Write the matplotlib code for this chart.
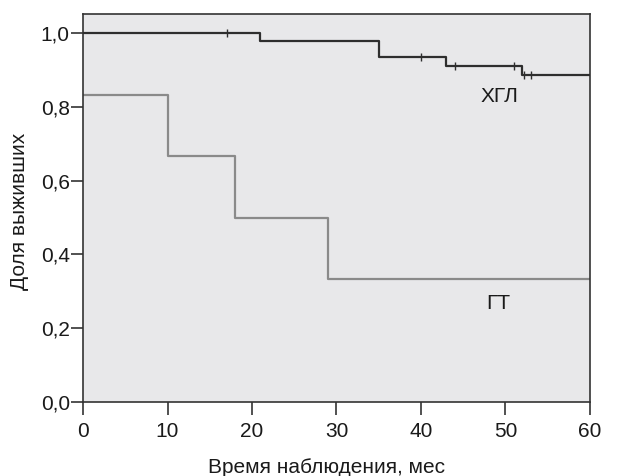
import matplotlib
matplotlib.use("Agg")
import matplotlib.pyplot as plt

plt.rcParams['font.family'] = ['Liberation Sans', 'DejaVu Sans']

# ХГЛ group: event times and survival after each step
hgl_times = [0, 21, 35, 43, 52, 60]
hgl_surv = [1.0, 0.978, 0.934, 0.910, 0.887, 0.887]
hgl_cens_t = [17, 40, 44, 51, 52.2, 53]
hgl_cens_s = [1.0, 0.934, 0.910, 0.910, 0.887, 0.887]

# ГТ group
gt_times = [0, 10, 18, 29, 60]
gt_surv = [0.833, 0.667, 0.5, 0.333, 0.333]

xticks = [0, 10, 20, 30, 40, 50, 60]
yticks = [0.0, 0.2, 0.4, 0.6, 0.8, 1.0]
ytick_labels = ['0,0', '0,2', '0,4', '0,6', '0,8', '1,0']

fig = plt.figure(figsize=(6.21, 4.76), dpi=100)
ax = fig.add_axes([0.1337, 0.1555, 0.8163, 0.816])
ax.set_facecolor('#e8e8ea')

dark = '#2e2e2e'
gray = '#8a8a8a'

ax.step(hgl_times, hgl_surv, where='post', color=dark, lw=1.6, zorder=3)
ax.step(gt_times, gt_surv, where='post', color=gray, lw=1.6, zorder=2)
ax.plot(hgl_cens_t, hgl_cens_s, linestyle='none', marker='|', markersize=6,
        mew=1.0, color=dark, zorder=4)

ax.text(49.3, 0.828, 'ХГЛ', fontsize=15, ha='center', va='center', color='#1a1a1a')
ax.text(49.1, 0.268, 'ГТ', fontsize=15, ha='center', va='center', color='#1a1a1a')

ax.set_xlim(0, 60)
ax.set_ylim(0, 1.053)
ax.set_xticks(xticks)
ax.set_yticks(yticks)
ax.set_yticklabels(ytick_labels)
ax.tick_params(axis='both', direction='out', width=1.2,
               colors='#333333', labelsize=15, labelcolor='#1a1a1a')
ax.tick_params(axis='x', length=9.5, pad=5)
ax.tick_params(axis='y', length=8.5, pad=1)

for s in ax.spines.values():
    s.set_color('#333333')
    s.set_linewidth(1.2)

ax.set_xlabel('Время наблюдения, мес', fontsize=15, color='#1a1a1a')
ax.set_ylabel('Доля выживших', fontsize=15, color='#1a1a1a')
ax.xaxis.set_label_coords(0.481, -0.145)
ax.yaxis.set_label_coords(-0.106, 0.49)

fig.savefig('out.png', dpi=100, facecolor='white')
